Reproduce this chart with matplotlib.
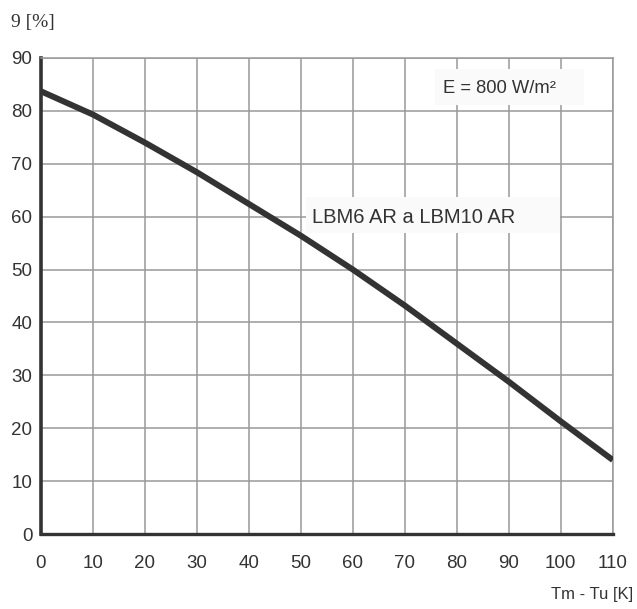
import matplotlib
matplotlib.use('Agg')
import matplotlib.pyplot as plt
from matplotlib.patches import Rectangle

# data
dT = [0, 10, 20, 30, 40, 50, 60, 70, 80, 90, 100, 110]
eta = [83.7, 79.3, 74.0, 68.4, 62.4, 56.4, 50.0, 43.2, 36.0, 28.8, 21.3, 14.0]
x_ticks = list(range(0, 111, 10))
y_ticks = list(range(0, 91, 10))
curve_label = 'LBM6 AR a LBM10 AR'
irr_label = 'E = 800 W/m²'

plt.rcParams['font.family'] = ['Liberation Sans', 'DejaVu Sans']

fig = plt.figure(figsize=(6.37, 6.09), dpi=100)
ax = fig.add_axes([0.064, 0.123, 0.898, 0.782])

ax.plot(dT, eta, color='#333333', linewidth=4.3, solid_capstyle='butt', zorder=3)

ax.set_xlim(0, 110)
ax.set_ylim(0, 90)
ax.set_xticks(x_ticks)
ax.set_yticks(y_ticks)
ax.grid(True, color='#999999', linewidth=1.1)
ax.set_axisbelow(True)
ax.tick_params(length=0, labelsize=13.5, labelcolor='#333333')
ax.tick_params(axis='x', pad=15)
ax.tick_params(axis='y', pad=6)

for s in ['top', 'right']:
    ax.spines[s].set_color('#999999')
    ax.spines[s].set_linewidth(1.1)
ax.spines['left'].set_color('#333333')
ax.spines['left'].set_linewidth(2.6)
ax.spines['bottom'].set_color('#333333')
ax.spines['bottom'].set_linewidth(2.4)

# label backgrounds
ax.add_patch(Rectangle((51.0, 56.9), 48.9, 6.8, facecolor='#fafafa', edgecolor='none', zorder=2.5))
ax.add_patch(Rectangle((75.8, 81.1), 28.7, 6.7, facecolor='#fafafa', edgecolor='none', zorder=2.5))

ax.text(52.1, 58.8, curve_label, fontsize=14.5, color='#333333', ha='left', va='baseline', zorder=4)
ax.text(77.4, 83.4, irr_label, fontsize=13.2, color='#333333', ha='left', va='baseline', zorder=4)

fig.text(11 / 637, 1 - 22 / 609, '9 [%]', fontsize=14, color='#333333', family='Liberation Serif',
         ha='left', va='center')
fig.text(633 / 637, 1 - 595 / 609, 'Tm - Tu [K]', fontsize=12, color='#333333',
         ha='right', va='center')

fig.savefig('out.png', dpi=100, facecolor='white')
